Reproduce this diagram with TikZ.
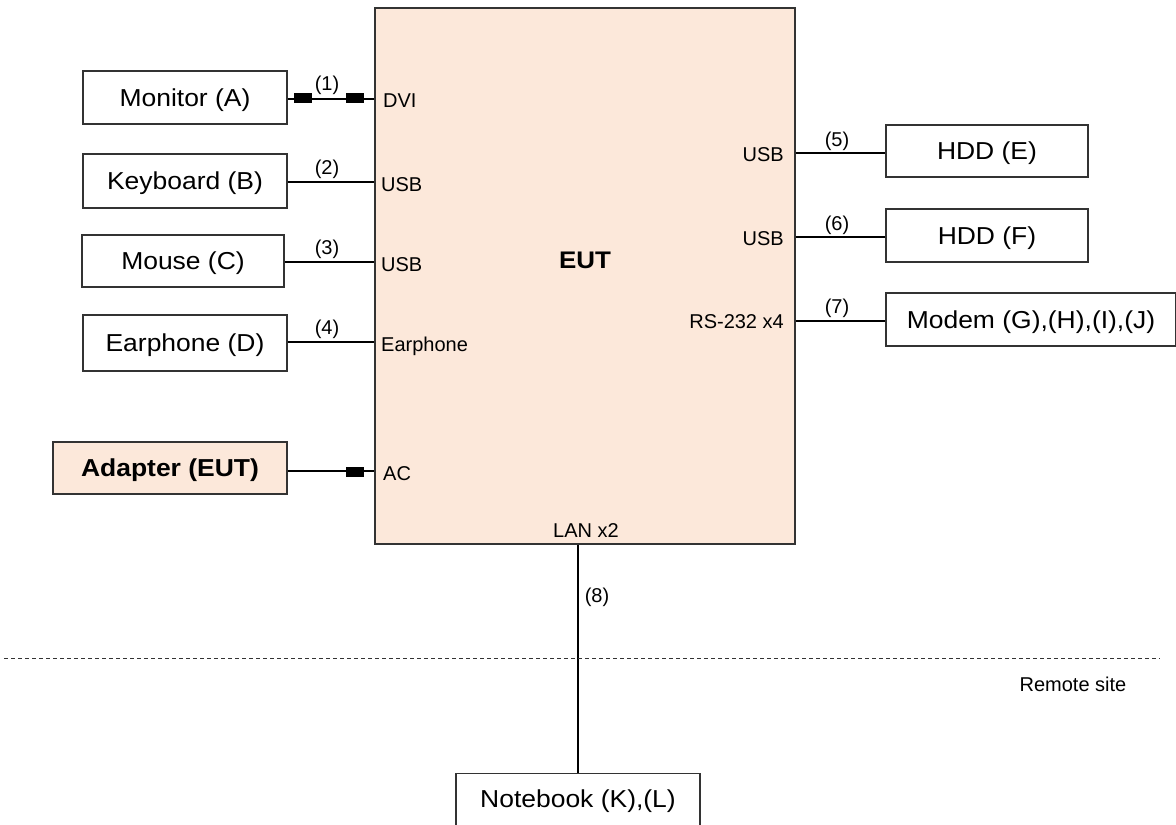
\documentclass[tikz,border=0pt]{standalone}
\usepackage{fontspec}
\setmainfont{Liberation Sans}
\newfontfamily\bigfont[FakeStretch=1.08]{Liberation Sans}
\definecolor{peach}{HTML}{FCE8DA}
\definecolor{edge}{HTML}{333333}
\begin{document}
\begin{tikzpicture}[x=1pt,y=-1pt,
  bigtext/.style={font=\bigfont\fontsize{24.5}{28}\selectfont,text height=17.5pt,text depth=0pt},
  box/.style={draw=edge,line width=1.3pt,inner sep=0pt,bigtext},
  port/.style={inner sep=0pt,font=\fontsize{20}{23}\selectfont,text height=14.3pt,text depth=0pt},
  num/.style={port},
  wire/.style={line width=1.2pt,black},
  plug/.style={fill=black,draw=none,minimum width=18pt,minimum height=10pt,inner sep=0pt}]
\clip (0,0) rectangle (1176,825);
\useasboundingbox (0,0) rectangle (1176,825);
\fill[white] (0,0) rectangle (1176,825);
% EUT
\node[draw=edge,line width=1.3pt,fill=peach,minimum width=420pt,minimum height=536pt,inner sep=0pt] (eut) at (585,276) {};
\node[bigtext,font=\bigfont\bfseries\fontsize{24}{28}\selectfont,inner sep=0pt] (eutl) at (585,260) {EUT};
% left devices
\node[box,minimum width=204pt,minimum height=53pt] (mon) at (185,97.5) {Monitor (A)};
\node[box,minimum width=204pt,minimum height=54pt] (kbd) at (185,181) {Keyboard (B)};
\node[box,minimum width=202pt,minimum height=52pt] (mou) at (183,261) {Mouse (C)};
\node[box,minimum width=204pt,minimum height=56pt] (ear) at (185,343) {Earphone (D)};
\node[box,fill=peach,minimum width=234pt,minimum height=52pt,font=\bigfont\bfseries\fontsize{24.5}{28}\selectfont] (adp) at (170,468) {Adapter (EUT)};
% right devices
\node[box,minimum width=202pt,minimum height=52pt] (hde) at (987,151) {HDD (E)};
\node[box,minimum width=202pt,minimum height=53pt] (hdf) at (987,235.5) {HDD (F)};
\node[box,minimum width=290pt,minimum height=53pt] (mod) at (1031,319.5) {Modem (G),(H),(I),(J)};
\node[draw=edge,line width=1.3pt,minimum width=244pt,minimum height=60pt,inner sep=0pt,anchor=north] (nb) at (578,773) {};
\node[bigtext,inner sep=0pt] (nbl) at (578,799) {Notebook (K),(L)};
% ports left
\node[port,anchor=west] (pdvi) at (383,100) {DVI};
\node[port,anchor=west] (pusb1) at (381,184) {USB};
\node[port,anchor=west] (pusb2) at (381,264) {USB};
\node[port,anchor=west] (pear) at (381,344) {Earphone};
\node[port,anchor=west] (pac) at (383,473) {AC};
% ports right
\node[port,anchor=east] (pusb3) at (784,154.5) {USB};
\node[port,anchor=east] (pusb4) at (784,238.5) {USB};
\node[port,anchor=east] (prs) at (784,321.5) {RS-232 x4};
\node[port] (plan) at (586,530.5) {LAN x2};
% wires
\draw[wire] (mon.east |- 0,99) -- (eut.west |- 0,99);
\draw[wire] (kbd.east |- 0,182) -- (eut.west |- 0,182);
\draw[wire] (mou.east |- 0,262) -- (eut.west |- 0,262);
\draw[wire] (ear.east |- 0,342) -- (eut.west |- 0,342);
\draw[wire] (adp.east |- 0,471) -- (eut.west |- 0,471);
\draw[wire] (eut.east |- 0,153) -- (hde.west |- 0,153);
\draw[wire] (eut.east |- 0,237) -- (hdf.west |- 0,237);
\draw[wire] (eut.east |- 0,321) -- (mod.west |- 0,321);
\draw[wire] (eut.south -| 578,0) -- (nb.north -| 578,0);
% plugs
\node[plug] (pl1) at (303,98) {};
\node[plug] (pl2) at (355,98) {};
\node[plug] (pl3) at (355,471.5) {};
% numbers
\node[num] (n1) at (327,83) {(1)};
\node[num] (n2) at (327,167) {(2)};
\node[num] (n3) at (327,247) {(3)};
\node[num] (n4) at (327,327) {(4)};
\node[num] (n5) at (837,139) {(5)};
\node[num] (n6) at (837,223) {(6)};
\node[num] (n7) at (837,306) {(7)};
\node[num] (n8) at (597,595) {(8)};
% remote site
\coordinate (dl) at (4,658);
\coordinate (dr) at (1160,658);
\draw[line width=0.9pt,dash pattern=on 4pt off 3pt,black!80] (dl) -- (dr);
\node[port] (rs) at (1073,684) {Remote site};
\end{tikzpicture}
\end{document}
